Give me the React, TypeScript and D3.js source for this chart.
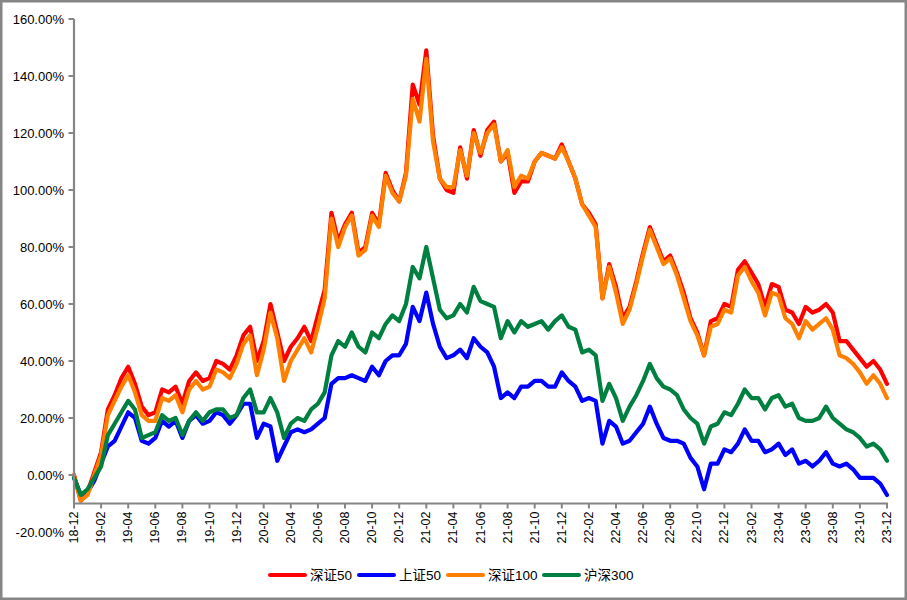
import React from "react";
import * as d3 from "d3";

const tickLabels = ["18-12","19-02","19-04","19-06","19-08","19-10","19-12","20-02","20-04","20-06","20-08","20-10","20-12","21-02","21-04","21-06","21-08","21-10","21-12","22-02","22-04","22-06","22-08","22-10","22-12","23-02","23-04","23-06","23-08","23-10","23-12"];

const yTicks = [160, 140, 120, 100, 80, 60, 40, 20, 0, -20];

// values in %, sampled every half month from 2018-12 to 2023-12
const sz50 = [0,-9,-6,1,8,23,28,34,38,32,
 24,21,22,30,29,31,25,33,36,33,
 34,40,39,37,42,49,52,40,47,60,
 50,40,45,48,52,47,56,65,92,82,
 88,92,78,80,92,88,106,100,96,106,
 137,130,149,119,104,100,99,115,104,121,
 112,121,124,110,113,99,103,103,110,113,
 112,111,116,110,104,95,92,88,62,74,
 66,55,59,68,78,87,81,75,77,71,
 64,55,50,42,54,55,60,59,72,75,
 71,67,59,67,66,58,57,53,59,57,
 58,60,57,47,47,44,41,38,40,37,
 32];

const sh50 = [-1,-7,-6,-2,4,10,12,17,22,20,
 12,11,13,19,17,19,13,19,21,18,
 19,22,21,18,21,25,25,13,18,17,
 5,10,15,16,15,16,18,20,32,34,
 34,35,34,33,38,35,40,42,42,46,
 59,54,64,53,45,41,42,44,41,48,
 45,43,38,27,29,27,31,31,33,33,
 31,31,36,33,31,26,27,26,11,19,
 17,11,12,15,18,24,18,13,12,12,
 11,6,3,-5,4,4,9,8,11,16,
 12,12,8,9,11,7,9,4,5,3,
 5,8,4,3,4,2,-1,-1,-1,-3,
 -7];

const sz100 = [0,-9,-7,0,7,21,26,31,35,29,
 21,19,19,27,26,28,22,30,33,30,
 31,37,36,34,39,46,49,35,44,57,
 48,33,40,44,48,43,52,62,90,80,
 87,91,77,79,91,87,105,99,96,105,
 132,124,146,117,104,101,101,114,105,120,
 113,120,123,110,114,101,105,104,110,113,
 112,111,115,110,104,95,91,87,62,73,
 64,53,58,67,77,86,80,74,76,70,
 62,54,49,42,52,53,58,57,70,73,
 68,64,56,64,63,55,53,48,54,51,
 53,55,51,42,41,39,36,32,35,32,
 27];

const hs300 = [-1,-7,-5,-1,3,14,18,22,26,23,
 13,14,15,21,19,20,14,19,22,19,
 22,23,23,20,21,27,30,22,22,27,
 22,13,18,20,19,23,25,29,42,47,
 45,50,45,43,50,48,53,56,54,60,
 73,69,80,69,58,55,56,60,57,66,
 61,60,59,48,54,50,54,52,53,54,
 51,54,56,52,51,43,44,42,26,32,
 27,19,24,28,33,39,34,31,30,28,
 23,20,18,11,17,18,22,21,25,30,
 27,27,23,27,28,24,25,20,19,19,
 20,24,20,18,16,15,13,10,11,9,
 5];

const seriesNames = ["深证50", "上证50", "深证100", "沪深300"];
const seriesColors = ["#FF0000", "#0000FF", "#FF8000", "#008040"];
const seriesData = [sz50, sh50, sz100, hs300];

const W = 907;
const H = 600;
const FONT = "'Liberation Sans', Arial, 'Noto Sans CJK SC', sans-serif";

export default function App() {
  const nPts = sz50.length;
  const x = d3.scaleLinear().domain([0, nPts - 1]).range([74, 887]);
  const y = d3.scaleLinear().domain([-20, 160]).range([532, 19]);
  const axisY = y(-10);
  const tickStep = (nPts - 1) / (tickLabels.length - 1);

  const line = d3
    .line<number>()
    .x((_, i) => x(i))
    .y((d) => y(d));

  const legendX = [269, 358, 447, 543];

  return (
    <svg
      width={W}
      height={H}
      style={{ position: "fixed", left: 0, top: 0, background: "#fff" }}
      fontFamily={FONT}
    >
      <rect x={0} y={0} width={W} height={H} fill="#fff" />
      <rect x={1.25} y={1.25} width={W - 2.5} height={H - 2.5} fill="none" stroke="#868686" strokeWidth={2.5} />

      {/* series */}
      {seriesData.map((s, i) => (
        <path
          key={seriesNames[i]}
          d={line(s) || ""}
          fill="none"
          stroke={seriesColors[i]}
          strokeWidth={4.2}
          strokeLinejoin="round"
          strokeLinecap="round"
        />
      ))}

      {/* y axis */}
      <line x1={74} x2={74} y1={y(160)} y2={axisY} stroke="#868686" strokeWidth={2.2} />
      {yTicks.map((t) => (
        <g key={t}>
          {y(t) <= axisY + 0.5 && (
            <line x1={68.5} x2={74} y1={y(t)} y2={y(t)} stroke="#868686" strokeWidth={2} />
          )}
          <text
            x={64}
            y={y(t)}
            textAnchor="end"
            dominantBaseline="central"
            fontSize={13}
            fill="#000"
          >
            {t.toFixed(2) + "%"}
          </text>
        </g>
      ))}

      {/* x axis */}
      <line x1={73} x2={888} y1={axisY} y2={axisY} stroke="#868686" strokeWidth={2.2} />
      {tickLabels.map((lab, i) => {
        const tx = x(i * tickStep);
        return (
          <g key={lab}>
            <line x1={tx} x2={tx} y1={axisY} y2={axisY + 5} stroke="#868686" strokeWidth={2} />
            <text
              transform={`translate(${tx},${axisY + 8}) rotate(-90)`}
              textAnchor="end"
              dominantBaseline="central"
              fontSize={12.5}
              fill="#000"
            >
              {lab}
            </text>
          </g>
        );
      })}

      {/* legend */}
      {seriesNames.map((n, i) => (
        <g key={n}>
          <line
            x1={legendX[i] + 1}
            x2={legendX[i] + 36}
            y1={575}
            y2={575}
            stroke={seriesColors[i]}
            strokeWidth={4}
            strokeLinecap="round"
          />
          <text x={legendX[i] + 41} y={575} dominantBaseline="central" fontSize={13.5} fill="#000">
            {n}
          </text>
        </g>
      ))}
    </svg>
  );
}
